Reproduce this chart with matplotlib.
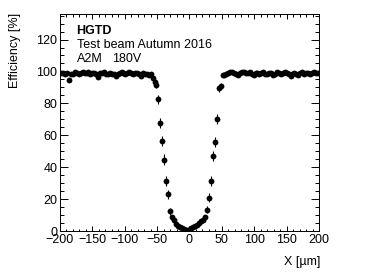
import numpy as np
import matplotlib
matplotlib.use("Agg")
import matplotlib.pyplot as plt
from matplotlib.ticker import MultipleLocator

plt.rcParams['font.family'] = ['Liberation Sans', 'DejaVu Sans']

# ---------- data ----------
# flat region left of the gap
left_x = [-198, -195, -192, -189, -186, -183, -180, -177, -174, -171, -168, -165,
          -162, -159, -156, -153, -150, -147, -144, -141, -138, -135, -132, -129,
          -126, -123, -120, -117, -114, -111, -108, -105, -102, -99, -96, -93,
          -90, -87, -84, -81, -78, -75, -72, -69, -66, -63, -60]
left_eff = [99.0, 99.3, 98.6, 98.9, 94.8, 98.2, 98.6, 99.4, 99.0, 98.3, 99.2, 99.6,
            98.8, 99.0, 99.4, 98.7, 99.1, 98.9, 98.4, 96.5, 99.0, 99.3, 99.5, 98.6,
            98.1, 99.0, 98.7, 98.2, 97.4, 98.4, 99.1, 99.5, 98.9, 98.6, 99.3, 99.7,
            99.0, 98.4, 98.9, 99.2, 98.5, 97.4, 98.8, 98.2, 98.5, 97.5, 98.5]

# inter-pad gap
dip_x = [-57, -54, -51, -48, -45, -42, -39, -36, -33, -30, -27, -24, -21, -18,
         -15, -12, -9, -6, -3, 0, 3, 6, 9, 12, 15, 18, 21, 24, 27, 30, 33, 36,
         39, 42, 45, 48, 51]
dip_eff = [96.0, 93.6, 91.5, 82.5, 67.8, 56.5, 44.8, 31.3, 23.0, 12.5, 8.5, 6.6,
           4.7, 3.4, 2.4, 1.6, 1.2, 0.75, 0.6, 0.9, 1.6, 2.4, 3.0, 3.5, 4.9, 6.0,
           7.0, 8.5, 13.3, 20.9, 31.3, 46.9, 56.0, 70.1, 89.4, 90.9, 97.8]
dip_err = [1.0, 1.5, 1.8, 2.6, 3.0, 3.2, 3.2, 3.0, 2.8, 2.2, 1.8, 1.5,
           1.3, 1.1, 1.0, 0.8, 0.7, 0.6, 0.5, 0.6, 0.8, 1.0, 1.1, 1.2, 1.4, 1.5,
           1.6, 1.8, 2.3, 2.7, 3.0, 3.2, 3.2, 3.0, 2.0, 1.8, 1.0]

# flat region right of the gap
right_x = [54, 57, 60, 63, 66, 69, 72, 75, 78, 81, 84, 87, 90, 93, 96, 99, 102,
           105, 108, 111, 114, 117, 120, 123, 126, 129, 132, 135, 138, 141, 144,
           147, 150, 153, 156, 159, 162, 165, 168, 171, 174, 177, 180, 183, 186,
           189, 192, 195, 198]
right_eff = [98.0, 98.6, 99.0, 99.4, 99.8, 99.2, 98.4, 97.6, 98.8, 99.5, 99.8, 99.0,
             98.8, 99.4, 98.7, 97.7, 98.9, 99.3, 98.6, 99.1, 99.6, 98.7, 98.3, 99.2,
             98.9, 97.6, 98.6, 99.4, 99.0, 98.5, 99.2, 99.6, 98.8, 98.1, 97.3, 98.6,
             99.3, 98.4, 97.7, 99.0, 99.4, 98.6, 98.9, 99.3, 98.4, 99.1, 99.6, 99.2,
             98.8]
flat_err = 0.6

fs = 9

fig = plt.figure(figsize=(3.81, 2.75), dpi=100)
ax = fig.add_axes([60/381, 1 - 231/275, 259/381, 217/275])

style = dict(fmt='o', color='black', ms=4.2, elinewidth=0.8, capsize=0, mew=0)
ax.errorbar(left_x, left_eff, yerr=flat_err, **style)
ax.errorbar(dip_x, dip_eff, yerr=dip_err, **style)
ax.errorbar(right_x, right_eff, yerr=flat_err, **style)

ax.set_xlim(-200, 200)
ax.set_ylim(0, 136)
ax.xaxis.set_major_locator(MultipleLocator(50))
ax.xaxis.set_minor_locator(MultipleLocator(10))
ax.yaxis.set_major_locator(MultipleLocator(20))
ax.yaxis.set_minor_locator(MultipleLocator(5))

ax.tick_params(which='both', direction='in', top=True, right=True,
               labelsize=fs, width=0.7, pad=2)
ax.tick_params(axis='x', which='major', length=3.6)
ax.tick_params(axis='x', which='minor', length=1.8)
ax.tick_params(axis='y', which='major', length=5.8)
ax.tick_params(axis='y', which='minor', length=2.9)
for s in ax.spines.values():
    s.set_linewidth(0.7)

# labels
fig.text(15/381, 1 - 13/275, 'Efficiency [%]', rotation=90, ha='center', va='top', fontsize=fs)
fig.text(320/381, 1 - 262/275, 'X [µm]', ha='right', va='center', fontsize=fs)

ax.text(0.064, 0.92, 'HGTD', transform=ax.transAxes, fontsize=fs, fontweight='bold', va='center')
ax.text(0.064, 0.857, 'Test beam Autumn 2016', transform=ax.transAxes, fontsize=fs, va='center')
ax.text(0.064, 0.793, 'A2M', transform=ax.transAxes, fontsize=fs, va='center')
ax.text(0.2, 0.793, '180V', transform=ax.transAxes, fontsize=fs, va='center')

plt.savefig('out.png', dpi=100)
